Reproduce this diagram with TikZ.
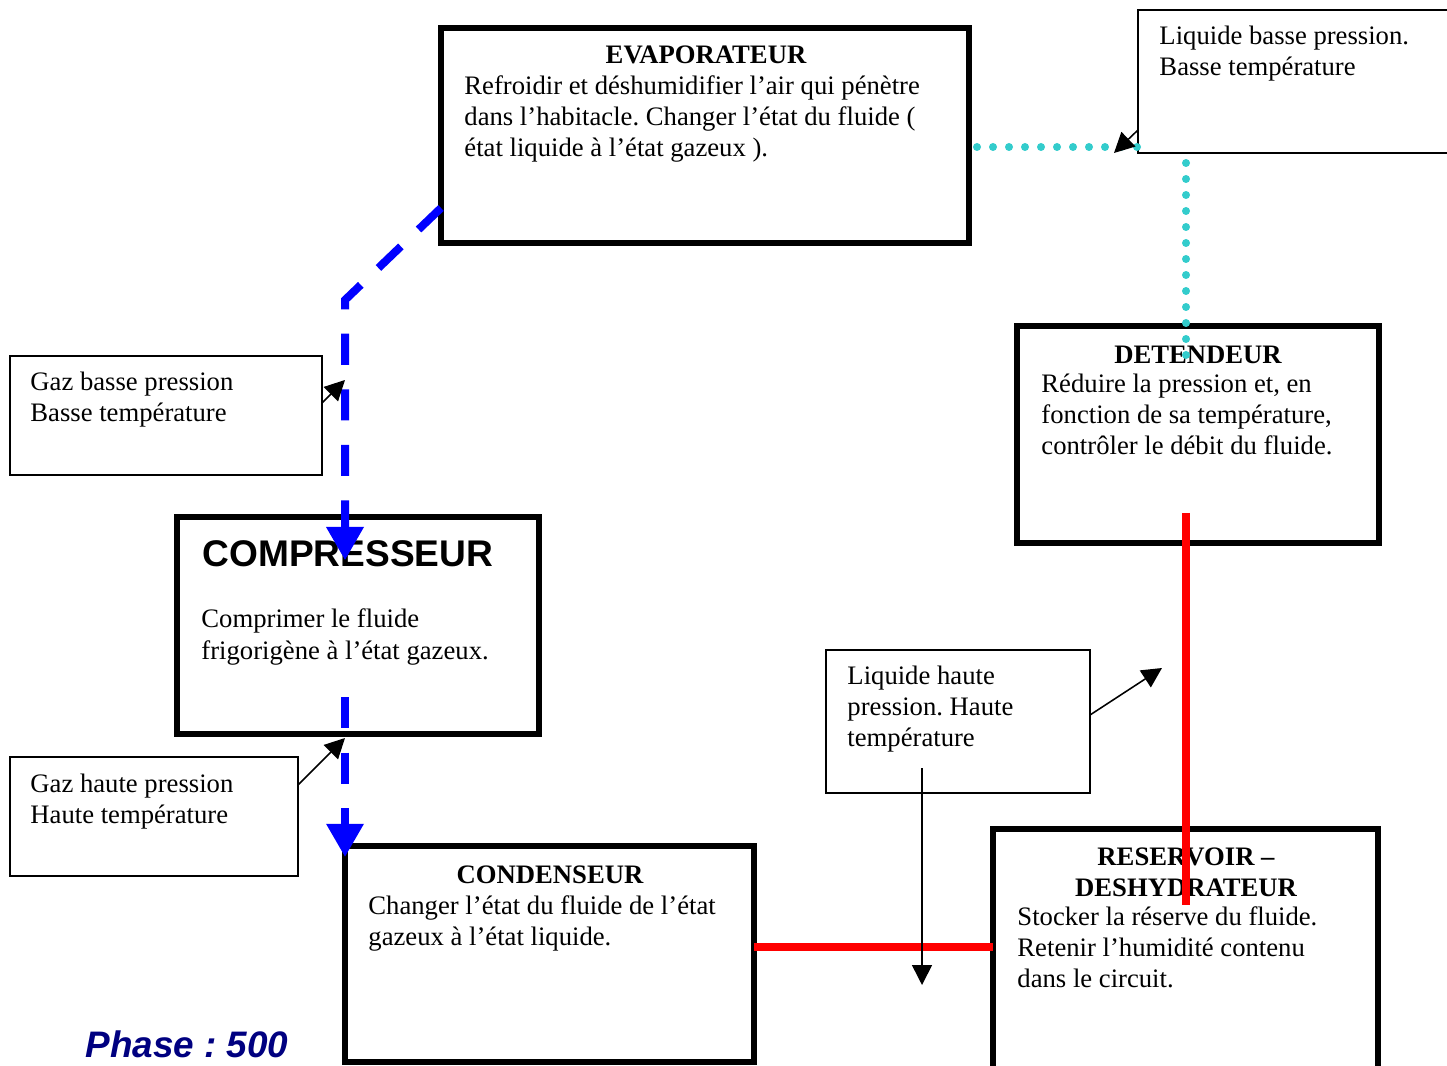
\documentclass[tikz,border=0pt]{standalone}
\usepackage{fontspec}
\setmainfont{Liberation Serif}
\newfontfamily\arialfont{Liberation Sans}
\usetikzlibrary{arrows.meta,fit,positioning}
\definecolor{flowblue}{RGB}{0,0,255}
\definecolor{dotcyan}{RGB}{51,204,204}
\definecolor{phasenavy}{RGB}{0,0,128}
\frenchspacing

\tikzset{
    organ/.style={draw, line width=2.3pt, inner sep=0pt, outer sep=0pt},
    note/.style={draw, line width=0.6pt, inner sep=0pt, outer sep=0pt},
    txt/.style={anchor=base west, inner sep=0pt, align=left, font=\fontsize{12}{13.95}\selectfont},
    head/.style={anchor=base, inner sep=0pt, align=center, font=\fontsize{12}{13.95}\selectfont\bfseries},
    lowflow/.style={flowblue, line width=3.6pt, dash pattern=on 14pt off 11pt, -{Triangle[length=15pt,width=16pt]}},
    liqflow/.style={dotcyan, line width=3.6pt, line cap=round, dash pattern=on 0pt off 7.2pt},
    hotflow/.style={red, line width=3.2pt},
    callout/.style={line width=0.7pt, -{Triangle[length=9pt,width=9pt]}},
}

\begin{document}
\begin{tikzpicture}[x=0.45pt, y=-0.45pt]
    \useasboundingbox (0,0) rectangle (1447,1066);

    % Boxes
    \node [organ, fit={(441,28) (969,243)}] (evap) {};
    \node [note, fit={(1138,10) (1470,153)}] (lbp) {};
    \node [organ, fit={(1017,326) (1379,543)}] (det) {};
    \node [note, fit={(10,356) (322,475)}] (gbp) {};
    \node [organ, fit={(177,517) (539,734)}] (comp) {};
    \node [note, fit={(10,757) (298,876)}] (ghp) {};
    \node [note, fit={(826,650) (1090,793)}] (lhp) {};
    \node [organ, fit={(345,846) (754,1062)}] (cond) {};
    \node [organ, fit={(993,829) (1378,1090)}] (res) {};

    % Texts (multi-line nodes sit on their last baseline)
    \node [head] (evap-t) at (706,64) {EVAPORATEUR};
    \node [txt] (evap-b) at (464,157) {Refroidir et déshumidifier l’air qui pénètre\\dans l’habitacle. Changer l’état du fluide (\\état liquide à l’état gazeux ).};
    \node [txt] (lbp-t) at (1159,76) {Liquide basse pression.\\Basse température};
    \node [head] (det-t) at (1198,364) {DETENDEUR};
    \node [txt] (det-b) at (1041,455) {Réduire la pression et, en\\fonction de sa température,\\contrôler le débit du fluide.};
    \node [txt] (gbp-t) at (30,422) {Gaz basse pression\\Basse température};
    \node [anchor=base west, inner sep=0pt, font=\arialfont\bfseries\fontsize{16.7}{20}\selectfont] (comp-t) at (202,567) {COMPRESSEUR};
    \node [txt] (comp-b) at (201,659) {Comprimer le fluide\\frigorigène à l’état gazeux.};
    \node [txt] (ghp-t) at (30,823) {Gaz haute pression\\Haute température};
    \node [txt] (lhp-t) at (847,746) {Liquide haute\\pression. Haute\\température};
    \node [head] (cond-t) at (550,883) {CONDENSEUR};
    \node [txt] (cond-b) at (368,945) {Changer l’état du fluide de l’état\\gazeux à l’état liquide.};
    \node [head] (res-t) at (1186,896) {RESERVOIR –\\DESHYDRATEUR};
    \node [txt] (res-b) at (1017,987) {Stocker la réserve du fluide.\\Retenir l’humidité contenu\\dans le circuit.};
    \node [anchor=base west, inner sep=0pt, text=phasenavy, font=\arialfont\bfseries\itshape\fontsize{16.6}{20}\selectfont] (phase) at (85,1057) {Phase : 500};

    % Fluid lines
    \coordinate (col) at (1186,0);
    \coordinate (bend) at (345,300);
    \draw [lowflow, shorten >=-19.5pt] (evap.west |- 0,208) -- (bend) -- (comp.north -| bend);
    \draw [lowflow, shorten <=-16.6pt, shorten >=-5pt] (comp.south -| cond.north west) -- (cond.north west);
    \draw [liqflow, dash phase=3.6pt] (evap.east |- 0,147) -- (lbp.west |- 0,147);
    \draw [liqflow, dash phase=2.7pt, shorten >=-14.4pt] (lbp.south -| col) -- (det.north -| col);
    \draw [hotflow, shorten <=-13.5pt, shorten >=-34pt] (det.south -| col) -- (res.north -| col);
    \draw [hotflow] (cond.east |- 0,947) -- (res.west |- 0,947);

    % Callout arrows
    \coordinate (lbp-tip) at (1114,153);
    \coordinate (gbp-tip) at (345,380);
    \coordinate (ghp-tip) at (345,738);
    \coordinate (lhp-tip) at (1162,668);
    \coordinate (lhp-drop) at (922,985);
    \draw [callout] (lbp.west |- 0,130) -- (lbp-tip);
    \draw [callout] (gbp.east |- 0,403) -- (gbp-tip);
    \draw [callout] (ghp.east |- 0,785) -- (ghp-tip);
    \draw [callout] (lhp.east |- 0,715) -- (lhp-tip);
    \draw [callout, shorten <=-11.25pt] (lhp.south -| lhp-drop) -- (lhp-drop);
\end{tikzpicture}
\end{document}
